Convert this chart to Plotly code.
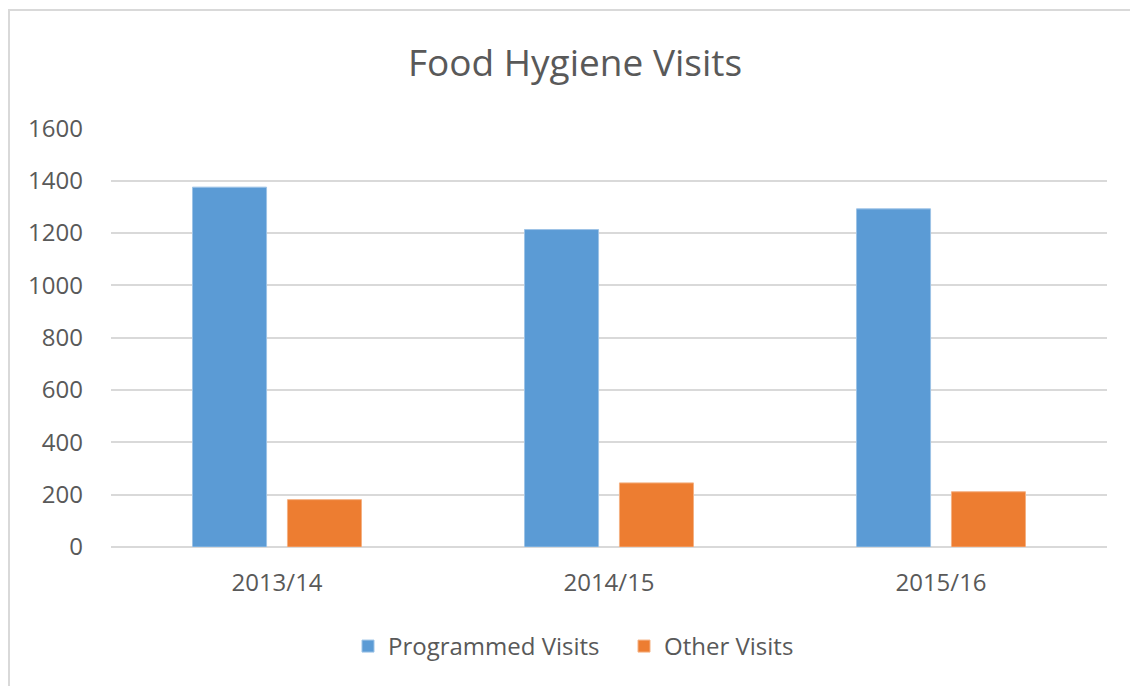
import plotly.graph_objects as go

categories = ["2013/14", "2014/15", "2015/16"]
programmed_visits = [1375, 1213, 1292]
other_visits = [181, 245, 211]
y_ticks = [0, 200, 400, 600, 800, 1000, 1200, 1400, 1600]

FONT = "Open Sans"
TXT = "#595959"

# page body has an 8px margin; figure coordinates are screen minus 8
L, T = 103, 120.4
PW, PH = 996, 418.3
BOT = T + PH

fig = go.Figure()
fig.add_trace(go.Bar(name="Programmed Visits", x=categories, y=programmed_visits,
                     marker=dict(color="#5b9bd5", line=dict(color="#9dc3e6", width=1))))
fig.add_trace(go.Bar(name="Other Visits", x=categories, y=other_visits,
                     marker=dict(color="#ed7d31", line=dict(color="#f4b183", width=1))))

fig.update_layout(
    width=1138, height=686,
    margin=dict(l=L, r=1138 - L - PW, t=T, b=686 - BOT),
    paper_bgcolor="white", plot_bgcolor="white",
    barmode="group", bargap=0.428, bargroupgap=0.22,
    title=dict(text="Food Hygiene Visits", x=(575 - 8) / 1138, xanchor="center",
               y=1 - (63 - 8) / 686, yanchor="middle",
               font=dict(family=FONT, size=37, color=TXT)),
    font=dict(family=FONT, color=TXT),
    legend=dict(orientation="h", x=(616 - L) / PW, xanchor="center", y=(BOT - 638) / PH, yanchor="middle",
                font=dict(family=FONT, size=24, color=TXT), itemwidth=30, traceorder="normal",
                entrywidth=231),
    xaxis=dict(showgrid=False, showline=False, ticks="", tickfont=dict(family=FONT, size=24, color=TXT),
               ticklabelstandoff=19),
    yaxis=dict(range=[0, 1601], tickvals=y_ticks, showgrid=True, gridcolor="#d9d9d9", gridwidth=1.5,
               zeroline=True, zerolinecolor="#d9d9d9", zerolinewidth=1.5, showline=False, ticks="",
               tickfont=dict(family=FONT, size=24, color=TXT), ticklabelstandoff=27),
)

fig.add_shape(type="rect", xref="paper", yref="paper",
              x0=(1 - L) / PW, x1=(1160 - L) / PW,
              y0=(BOT - 700) / PH, y1=(BOT - 2.5) / PH,
              line=dict(color="#d9d9d9", width=2), fillcolor="rgba(0,0,0,0)", layer="below")

fig.write_html("out.html")
